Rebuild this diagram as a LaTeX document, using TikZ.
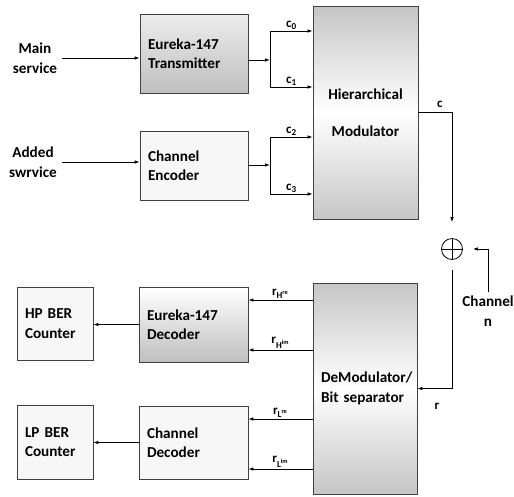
\documentclass[tikz,border=0pt]{standalone}
\usepackage{fontspec}
\setmainfont{Carlito}
\usetikzlibrary{arrows.meta,positioning}

\begin{document}
\begin{tikzpicture}[x=1pt,y=-1pt,
  font=\fontsize{15.2}{19.5}\selectfont\bfseries,
  blk/.style={draw=black!75, line width=0.6pt, inner xsep=8pt, inner ysep=0pt, align=left},
  arr/.style={-{Latex[length=5pt,width=3.5pt]}, line width=0.8pt},
  lbl/.style={font=\fontsize{13}{14}\selectfont\bfseries, inner sep=1.5pt}]
  \useasboundingbox (0,0) rectangle (514,496);
  % Sources
  \node[align=center, inner xsep=5pt] (ms) at (35,58) {Main\\service};
  \node[align=center, inner xsep=5pt] (as) at (33,162) {Added\\swrvice};
  % Transmitter side
  \node[blk, top color=gray!15, bottom color=gray!50, text width=92pt, minimum height=79pt] (tx) at (194,53.5) {Eureka-147\\Transmitter};
  \node[blk, fill=gray!6, text width=92pt, minimum height=69pt] (enc) at (194,165.5) {Channel\\Encoder};
  \node[blk, align=center, top color=gray!45, bottom color=gray!45, middle color=white,
        text width=89pt, minimum height=213pt] (mod) at (365.5,112.5) {Hierarchical\\[17pt]Modulator};
  % Channel
  \node[circle, draw, line width=0.8pt, minimum size=21pt, inner sep=0pt,
        path picture={\draw[line width=0.8pt] (path picture bounding box.north) -- (path picture bounding box.south)
                      (path picture bounding box.west) -- (path picture bounding box.east);}] (op) at (452,249) {};
  \node[align=center] (ch) at (488,311) {Channel\\n};
  % Receiver side
  \node[blk, top color=gray!45, bottom color=gray!45, middle color=white,
        text width=88pt, minimum height=211pt] (demod) at (365,388.5) {DeModulator/\\Bit separator};
  \node[blk, top color=white, bottom color=gray!50, text width=93pt, minimum height=75pt] (dech) at (193.5,324.5) {Eureka-147\\Decoder};
  \node[blk, fill=gray!6, text width=93pt, minimum height=73pt] (decl) at (193.5,442.5) {Channel\\Decoder};
  \node[blk, fill=gray!6, text width=60pt, minimum height=73pt] (hp) at (55,323.5) {HP BER\\Counter};
  \node[blk, fill=gray!6, text width=60pt, minimum height=74pt] (lp) at (55,442) {LP BER\\Counter};
  % Inputs
  \draw[arr] (ms.east) -- (ms.east -| tx.west);
  \draw[arr] (as.east) -- (as.east -| enc.west);
  % Splits into c0..c3
  \coordinate (s1) at (270,60);
  \coordinate (b0) at (270,31);
  \coordinate (b1) at (270,87);
  \draw[arr] (s1 -| tx.east) -- (s1);
  \draw[line width=0.8pt] (b0) -- (b1);
  \draw[arr] (b0) -- node[lbl, above] {c\textsubscript{0}} (b0 -| mod.west);
  \draw[arr] (b1) -- node[lbl, above] {c\textsubscript{1}} (b1 -| mod.west);
  \coordinate (s2) at (270,165);
  \coordinate (b2) at (270,137);
  \coordinate (b3) at (270,194);
  \draw[arr] (s2 -| enc.east) -- (s2);
  \draw[line width=0.8pt] (b2) -- (b3);
  \draw[arr] (b2) -- node[lbl, above] {c\textsubscript{2}} (b2 -| mod.west);
  \draw[arr] (b3) -- node[lbl, above] {c\textsubscript{3}} (b3 -| mod.west);
  % Through the channel
  \draw[arr, shorten >=16pt] (mod.east) -| node[lbl, pos=0.32, above, yshift=3pt] {c} (op.north);
  \draw[arr, shorten >=10pt] (ch.north) |- (op.east);
  \draw[arr, shorten <=10pt] (op.south) |- (demod.east);
  \node[lbl] (rl) at (437,406) {r};
  % Demodulator outputs
  \coordinate (y1) at (0,300);
  \coordinate (y2) at (0,350);
  \coordinate (y3) at (0,419);
  \coordinate (y4) at (0,469);
  \draw[arr] (demod.west |- y1) -- node[lbl, above] {r\textsubscript{H\textsuperscript{re}}} (dech.east |- y1);
  \draw[arr] (demod.west |- y2) -- node[lbl, above] {r\textsubscript{H\textsuperscript{im}}} (dech.east |- y2);
  \draw[arr] (demod.west |- y3) -- node[lbl, above] {r\textsubscript{L\textsuperscript{re}}} (decl.east |- y3);
  \draw[arr] (demod.west |- y4) -- node[lbl, above] {r\textsubscript{L\textsuperscript{im}}} (decl.east |- y4);
  % Counters
  \draw[arr] (dech.west) -- (dech.west -| hp.east);
  \draw[arr] (decl.west) -- (decl.west -| lp.east);
\end{tikzpicture}
\end{document}
